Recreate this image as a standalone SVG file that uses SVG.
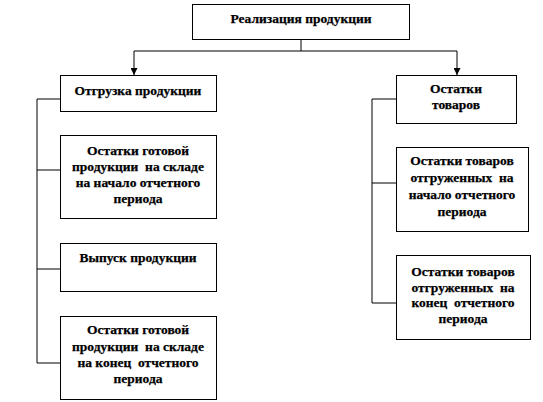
<svg xmlns="http://www.w3.org/2000/svg" width="543" height="402" viewBox="0 0 543 402">
<defs>
<style>
.box{fill:#fff;stroke:#000;stroke-width:1}
.ln{fill:none;stroke:#000;stroke-width:1}
text{font-family:"Liberation Serif","Times New Roman",serif;font-weight:bold;font-size:13.5px;fill:#000;stroke:#000;stroke-width:0.25;text-anchor:middle;white-space:pre}
</style>
<marker id="arr" viewBox="0 0 8 8" refX="8" refY="4" markerWidth="7" markerHeight="7" orient="auto" markerUnits="userSpaceOnUse">
<path d="M0,0 L8,4 L0,8 Z" fill="#000"/>
</marker>
</defs>
<rect width="543" height="402" fill="#fff"/>
<g id="connectors">
<path class="ln" d="M301,39 V51"/>
<path class="ln" d="M134,51 H457"/>
<path class="ln" d="M134,51 V75" marker-end="url(#arr)"/>
<path class="ln" d="M457,51 V75" marker-end="url(#arr)"/>
<path class="ln" d="M60,99 H37 V363 H60"/>
<path class="ln" d="M37,170 H60"/>
<path class="ln" d="M37,269 H60"/>
<path class="ln" d="M396,99 H372 V303 H396"/>
<path class="ln" d="M372,183 H396"/>
</g>
<g id="n-top">
<rect class="box" x="192.5" y="4.5" width="217" height="35"/>
<text x="301" y="23">Реализация продукции</text>
</g>
<g id="n-otgruzka">
<rect class="box" x="60.5" y="75.5" width="156" height="36"/>
<text x="138" y="95">Отгрузка продукции</text>
</g>
<g id="n-ost-nach">
<rect class="box" x="60.5" y="135.5" width="156" height="83"/>
<text x="138" y="155">Остатки готовой</text>
<text x="138" y="171">продукции  на складе</text>
<text x="138" y="187">на начало отчетного</text>
<text x="138" y="203">периода</text>
</g>
<g id="n-vypusk">
<rect class="box" x="60.5" y="243.5" width="156" height="48"/>
<text x="138" y="262">Выпуск продукции</text>
</g>
<g id="n-ost-kon">
<rect class="box" x="60.5" y="316.5" width="156" height="83"/>
<text x="138" y="334">Остатки готовой</text>
<text x="138" y="351">продукции  на складе</text>
<text x="138" y="367">на конец  отчетного</text>
<text x="138" y="383">периода</text>
</g>
<g id="n-ost-tov">
<rect class="box" x="396.5" y="75.5" width="120" height="48"/>
<text x="456" y="93">Остатки</text>
<text x="456" y="109">товаров</text>
</g>
<g id="n-tov-nach">
<rect class="box" x="396.5" y="147.5" width="132" height="84"/>
<text x="462" y="165">Остатки товаров</text>
<text x="462" y="182">отгруженных  на</text>
<text x="462" y="199">начало отчетного</text>
<text x="462" y="216">периода</text>
</g>
<g id="n-tov-kon">
<rect class="box" x="396.5" y="255.5" width="134" height="84"/>
<text x="463" y="276">Остатки товаров</text>
<text x="463" y="292">отгруженных  на</text>
<text x="463" y="307">конец  отчетного</text>
<text x="463" y="323">периода</text>
</g>
</svg>
